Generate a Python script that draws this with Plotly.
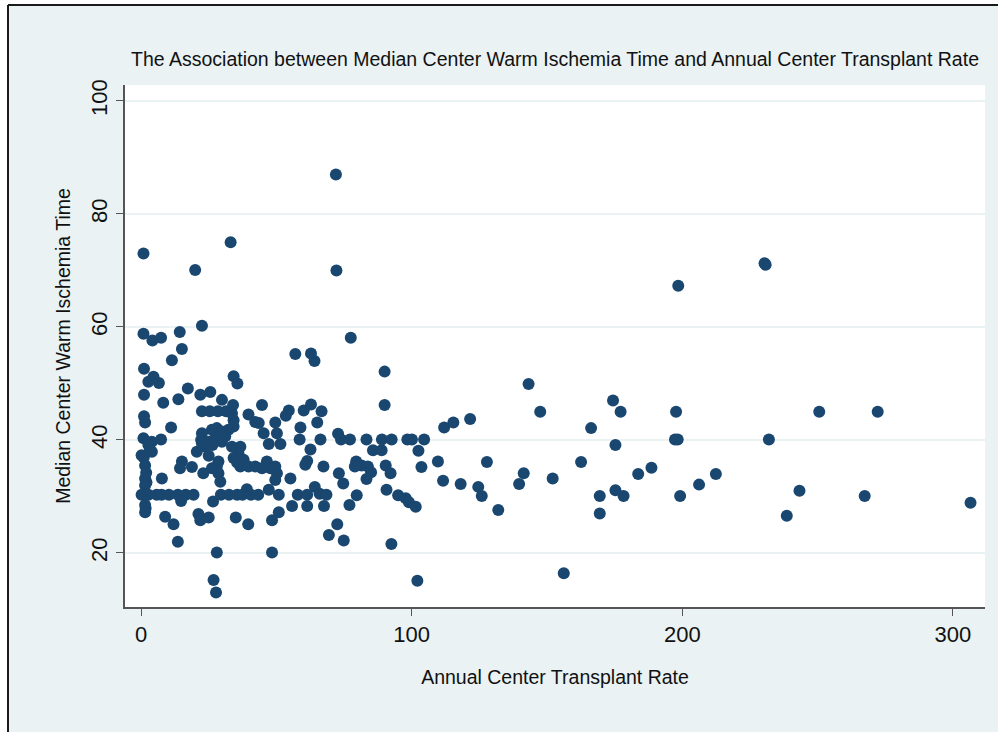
import plotly.graph_objects as go

# Annual center transplant rate (x) and median center warm ischemia time (y)
transplant_rate = [
    0.9, 0.9, 1.1, 1.1, 1.1, 1.5, 0.9, 0.2, 1.0, 1.5, 1.9, 1.5, 2.0, 1.5, 0.2, 1.5, 1.7, 1.5,
    4.2, 7.4, 4.6, 2.7, 6.6, 8.2, 4.0, 7.4, 2.7, 3.3, 4.0, 2.7, 5.8, 7.6, 7.7, 8.9,
    11.4, 14.3, 15.1, 13.8, 17.3, 11.1, 12.0, 13.6, 10.3, 13.6, 14.8, 16.5, 19.4, 15.1, 14.4, 18.8, 20.0, 22.5,
    21.9, 25.6, 29.9, 22.5, 25.4, 28.4, 31.4, 34.0, 34.2, 35.6, 33.1,
    34.2, 33.6, 34.2, 32.3,
    22.5, 26.2, 28.0, 29.9, 31.1, 22.2, 25.0, 27.4, 29.9, 23.7, 26.4, 25.0, 20.6, 22.5,
    28.6, 28.0, 26.2, 23.0, 28.6, 29.3,
    33.6, 36.7, 36.0, 34.2, 37.9, 36.7, 35.5,
    29.5, 32.5, 35.5, 37.5,
    26.6, 21.2, 21.9, 25.0, 35.0, 39.6, 28.0, 26.8, 27.7,
    39.7, 42.2, 43.5, 49.6, 44.7, 45.3, 50.2, 47.2, 51.5,
    39.7, 42.2, 44.7, 46.5, 47.8, 49.6, 50.2, 49.6,
    39.1, 40.6, 43.3, 47.2, 50.9, 48.4, 50.9, 48.4,
    54.6, 53.5, 60.1, 62.8, 66.7, 65.1, 58.9, 58.6, 66.3, 62.6, 61.4, 60.7, 67.4, 55.2,
    57.9, 61.4, 64.2, 66.0, 68.5, 55.8, 61.4, 67.6, 57.0, 62.8, 64.1, 69.4,
    72.0, 72.2, 77.5, 90.0, 90.0,
    72.8, 73.9, 77.2, 83.3, 89.0, 92.6, 98.4, 100.1, 104.6,
    85.7, 88.9, 102.5,
    79.5, 81.5, 79.0, 83.8, 85.0, 83.3, 90.4, 92.2,
    73.1, 74.7, 90.7, 95.0, 97.8, 99.0, 101.5, 103.6,
    79.7, 77.0, 72.5, 74.9, 92.5, 102.1,
    112.0, 115.4, 121.6, 109.7, 111.6, 118.1, 124.6, 125.9, 127.8, 132.0, 139.7, 141.4, 143.2, 147.5,
    152.1, 156.2, 162.6, 166.3, 169.5, 169.5, 174.4, 177.2, 175.3, 175.3, 178.3, 183.7, 188.6, 197.3,
    198.3, 197.7, 199.2, 198.5, 206.2, 212.4, 230.4, 230.8, 232.0, 238.6, 243.3, 250.6, 267.4, 272.2, 306.5,
]

warm_ischemia = [
    73.0, 58.8, 52.6, 48.0, 44.2, 43.1, 40.3, 37.3, 36.9, 35.5, 34.2, 33.2, 32.5, 32.0, 30.3, 28.5, 27.9, 27.2,
    57.6, 58.1, 51.2, 50.3, 50.1, 46.6, 39.7, 40.1, 39.1, 38.2, 37.9, 30.3, 30.3, 30.3, 33.2, 26.4,
    54.1, 59.1, 56.1, 47.2, 49.1, 42.2, 25.1, 22.0, 30.3, 30.3, 29.2, 30.3, 30.3, 36.2, 35.0, 35.2, 70.1, 60.2,
    48.0, 48.5, 47.1, 45.1, 45.1, 45.1, 45.1, 46.2, 51.3, 50.0, 75.0,
    43.5, 44.7, 42.4, 41.8,
    41.2, 41.8, 42.1, 41.5, 40.6, 40.0, 39.7, 40.3, 39.7, 38.8, 39.1, 37.2, 37.9, 39.4,
    36.2, 35.3, 35.0, 34.1, 34.1, 32.6,
    38.8, 38.8, 37.6, 36.8, 36.5, 35.3, 36.0,
    30.3, 30.3, 30.3, 30.3,
    29.1, 26.9, 25.8, 26.3, 26.3, 25.1, 20.1, 15.2, 13.0,
    44.5, 43.2, 43.0, 43.1, 46.2, 41.2, 41.2, 39.3, 39.3,
    35.3, 35.3, 35.0, 36.2, 35.0, 35.3, 34.1, 32.9,
    31.3, 30.3, 30.3, 31.2, 30.3, 25.8, 27.2, 20.1,
    45.2, 44.3, 45.2, 46.3, 45.1, 43.1, 42.2, 40.1, 40.1, 38.3, 36.3, 35.6, 35.3, 33.2,
    30.3, 30.3, 31.7, 30.5, 30.3, 28.3, 28.3, 28.3, 55.2, 55.3, 54.0, 23.2,
    87.0, 70.0, 58.1, 52.1, 46.2,
    41.1, 40.1, 40.1, 40.1, 40.1, 40.1, 40.1, 40.1, 40.1,
    38.2, 38.2, 38.1,
    36.2, 35.5, 35.3, 35.3, 34.3, 33.1, 35.5, 34.1,
    34.1, 32.3, 31.2, 30.2, 29.7, 29.0, 28.2, 35.2,
    30.2, 28.5, 25.1, 22.2, 21.6, 15.1,
    42.2, 43.1, 43.7, 36.2, 32.8, 32.2, 31.7, 30.1, 36.1, 27.6, 32.2, 34.1, 49.9, 45.0,
    33.2, 16.4, 36.1, 42.1, 30.1, 27.0, 47.0, 45.0, 39.1, 31.1, 30.1, 34.0, 35.1, 40.1,
    40.1, 45.0, 30.1, 67.3, 32.1, 34.0, 71.3, 71.0, 40.1, 26.6, 31.0, 45.0, 30.1, 45.0, 28.9,
]

x_ticks = [0, 100, 200, 300]
y_ticks = [20, 40, 60, 80, 100]

title_text = "The Association between Median Center Warm Ischemia Time and Annual Center Transplant Rate"
x_title = "Annual Center Transplant Rate"
y_title = "Median Center Warm Ischemia Time"

W, H = 998, 732
L, R, T, B = 125, 13, 85, 125
pw, ph = W - L - R, H - T - B

def px_x(p):
    return (p - L) / pw

def px_y(p):
    return (H - B - p) / ph

FONT = "Liberation Sans, Arial, Helvetica, sans-serif"
BG = "#eaf2f3"
NAVY = "#1a476f"

fig = go.Figure()
fig.add_trace(go.Scatter(
    x=transplant_rate, y=warm_ischemia, mode="markers",
    marker=dict(color=NAVY, size=12, line=dict(width=0)),
    hoverinfo="x+y", showlegend=False,
))

shapes = [
    # white strips outside the outer frame
    dict(type="rect", xref="paper", yref="paper", x0=px_x(-5), x1=px_x(7), y0=px_y(H + 5), y1=px_y(-5),
         fillcolor="white", line=dict(width=0), layer="above"),
    dict(type="rect", xref="paper", yref="paper", x0=px_x(-5), x1=px_x(W + 5), y0=px_y(4), y1=px_y(-5),
         fillcolor="white", line=dict(width=0), layer="above"),
    # dark outer frame
    dict(type="line", xref="paper", yref="paper", x0=px_x(8), x1=px_x(W + 5), y0=px_y(5), y1=px_y(5),
         line=dict(color="#1a1a1a", width=2), layer="above"),
    dict(type="line", xref="paper", yref="paper", x0=px_x(8), x1=px_x(8), y0=px_y(5), y1=px_y(H + 5),
         line=dict(color="#1a1a1a", width=2), layer="above"),
]

fig.update_layout(
    width=W, height=H,
    margin=dict(l=L, r=R, t=T, b=B, pad=0),
    paper_bgcolor=BG, plot_bgcolor="white",
    font=dict(family=FONT, color="#111111"),
    title=dict(text=title_text, x=0.5, xref="paper", xanchor="center",
               y=1 - 59 / H, yref="container", yanchor="middle",
               font=dict(size=19.5, family=FONT, color="#111111")),
    xaxis=dict(range=[-5.93, 311.85], tickvals=x_ticks, ticktext=[str(v) for v in x_ticks],
               showgrid=False, zeroline=False, showline=True, linecolor="#555555", linewidth=1.5,
               ticks="outside", ticklen=7, tickcolor="#555555", tickwidth=1,
               tickfont=dict(size=22, family=FONT),
               title=dict(text=x_title, font=dict(size=19.5, family=FONT), standoff=24)),
    yaxis=dict(range=[10.44, 102.83], tickvals=y_ticks, ticktext=[str(v) for v in y_ticks],
               showgrid=True, gridcolor=BG, gridwidth=2, zeroline=False,
               showline=True, linecolor="#555555", linewidth=1.5,
               ticks="outside", ticklen=7, tickcolor="#555555", tickwidth=1,
               tickangle=-90, tickfont=dict(size=22, family=FONT),
               title=dict(text=y_title, font=dict(size=19.5, family=FONT), standoff=12)),
    shapes=shapes,
)

fig.write_html("out.html", config={"displayModeBar": False},
               post_script="document.body.style.margin='0';")
